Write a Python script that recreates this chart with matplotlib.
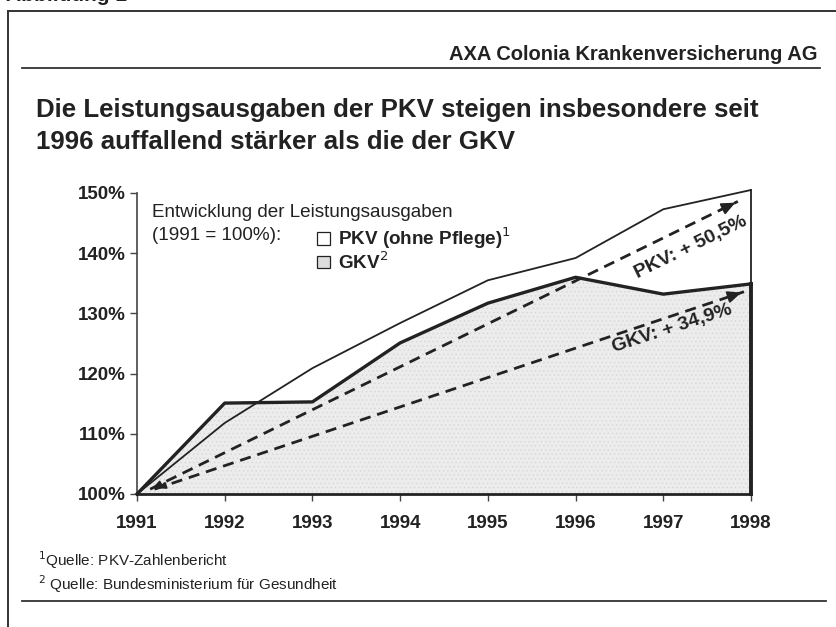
import numpy as np
import matplotlib
matplotlib.use('Agg')
import matplotlib.pyplot as plt
from matplotlib.patches import Rectangle

plt.rcParams['font.family'] = ['Liberation Sans', 'DejaVu Sans']
plt.rcParams['hatch.linewidth'] = 0.4

# data (1991 = 100%)
years = [1991, 1992, 1993, 1994, 1995, 1996, 1997, 1998]
pkv = [100, 111.8, 120.9, 128.4, 135.5, 139.2, 147.3, 150.5]
gkv = [100, 115.1, 115.3, 125.1, 131.7, 136.0, 133.2, 134.9]
yticks = [100, 110, 120, 130, 140, 150]
ytick_labels = ['100%', '110%', '120%', '130%', '140%', '150%']

# trend arrows (start, end) and labels
pkv_arrow = [(1991.15, 100.8), (1997.85, 148.6)]
gkv_arrow = [(1991.2, 100.8), (1997.92, 133.6)]
pkv_label = 'PKV: + 50,5%'
gkv_label = 'GKV: + 34,9%'

fig = plt.figure(figsize=(8.37, 6.27), dpi=100)

def fx(px):
    return px / 837

def fy(py):
    return 1 - py / 627

# frame lines of the page
fig.add_artist(plt.Line2D([fx(8), fx(8)], [0, fy(11)], color='#333333', lw=1.4))
fig.add_artist(plt.Line2D([fx(8), 1], [fy(11), fy(11)], color='#333333', lw=1.4))
fig.add_artist(plt.Line2D([fx(22), fx(820)], [fy(68), fy(68)], color='#333333', lw=1.3))
fig.add_artist(plt.Line2D([fx(22), fx(826)], [fy(601), fy(601)], color='#333333', lw=1.3))

fig.text(fx(6), fy(1), 'Abbildung 1', fontsize=15, fontweight='bold', color='#222222', va='baseline')
fig.text(fx(818), fy(60), 'AXA Colonia Krankenversicherung AG', fontsize=14.5, fontweight='bold',
         color='#222222', ha='right', va='baseline')
fig.text(fx(36), fy(117), 'Die Leistungsausgaben der PKV steigen insbesondere seit', fontsize=18.6,
         fontweight='bold', color='#222222', va='baseline')
fig.text(fx(36), fy(149), '1996 auffallend stärker als die der GKV', fontsize=18.6,
         fontweight='bold', color='#222222', va='baseline')

fig.text(fx(38), fy(566), '$^1$Quelle: PKV-Zahlenbericht', fontsize=11, color='#222222', va='baseline')
fig.text(fx(38), fy(590), '$^2$ Quelle: Bundesministerium für Gesundheit', fontsize=11, color='#222222', va='baseline')

ax = fig.add_axes([fx(137), fy(494), fx(751 - 137), (494 - 193) / 627])
ax.set_xlim(1991, 1998)
ax.set_ylim(100, 150)

# PKV area (white, thin outline)
ax.fill_between(years, 100, pkv, facecolor='white', edgecolor='none', zorder=1)
ax.plot(years, pkv, color='#222222', lw=1.3, zorder=4, clip_on=False)
ax.plot([1998, 1998], [gkv[-1], pkv[-1]], color='#222222', lw=1.3, zorder=4, clip_on=False)

# GKV area (grey, thick outline)
ax.fill_between(years, 100, gkv, facecolor='#ececec', edgecolor='#d4d4d4', hatch='....', lw=0, zorder=2)
ax.plot(years, gkv, color='#222222', lw=2.4, zorder=5, clip_on=False)
ax.plot([1998, 1998], [100, gkv[-1]], color='#222222', lw=2.8, zorder=5, clip_on=False)

# dashed trend arrows
for arr in [pkv_arrow, gkv_arrow]:
    (x0, y0), (x1, y1) = arr
    ax.plot([x0, x1], [y0, y1], color='#222222', lw=2, ls=(0, (4, 2.5)), zorder=6)
    ax.annotate('', xy=(x1, y1), xytext=(x1 - 0.15, y1 - 0.15*(y1-y0)/(x1-x0)),
                arrowprops=dict(arrowstyle='-|>,head_length=0.8,head_width=0.35', color='#222222', lw=1.5),
                zorder=7)
    ax.annotate('', xy=(x0, y0), xytext=(x0 + 0.15, y0 + 0.15*(y1-y0)/(x1-x0)),
                arrowprops=dict(arrowstyle='-|>,head_length=0.5,head_width=0.2', color='#222222', lw=1.2),
                zorder=7)

ax.text(1997.32, 141.0, pkv_label, fontsize=14, fontweight='bold', color='#222222',
        rotation=26, ha='center', va='center', zorder=8)
ax.text(1997.1, 127.4, gkv_label, fontsize=14, fontweight='bold', color='#222222',
        rotation=18, ha='center', va='center', zorder=8)

# legend text
ax.text(1991.17, 146.8, 'Entwicklung der Leistungsausgaben', fontsize=13.6, color='#222222', va='center')
ax.text(1991.17, 142.9, '(1991 = 100%):', fontsize=13.6, color='#222222', va='center')
ax.add_patch(Rectangle((1993.05, 141.4), 0.15, 2.1, facecolor='white', edgecolor='#222222', lw=0.9, zorder=8))
ax.add_patch(Rectangle((1993.05, 137.5), 0.15, 2.0, facecolor='#dddddd', edgecolor='#222222', lw=0.9, zorder=8))
ax.text(1993.29, 142.5, 'PKV (ohne Pflege)$^1$', fontsize=13.6, fontweight='bold', color='#222222', va='center')
ax.text(1993.29, 138.5, 'GKV$^2$', fontsize=13.6, fontweight='bold', color='#222222', va='center')

for s in ['top', 'right']:
    ax.spines[s].set_visible(False)
ax.spines['left'].set_color('#444444')
ax.spines['left'].set_linewidth(1.2)
ax.spines['bottom'].set_color('#222222')
ax.spines['bottom'].set_linewidth(2)
ax.spines['bottom'].set_zorder(6)

ax.set_xticks(years)
ax.set_xticklabels([str(y) for y in years], fontsize=13.5, fontweight='bold', color='#222222')
ax.set_yticks(yticks)
ax.set_yticklabels(ytick_labels, fontsize=13.5, fontweight='bold', color='#222222')
ax.tick_params(axis='both', direction='out', length=5, width=1, color='#444444')
ax.tick_params(axis='x', pad=10)
ax.tick_params(axis='y', pad=3)

fig.savefig('out.png', dpi=100)
